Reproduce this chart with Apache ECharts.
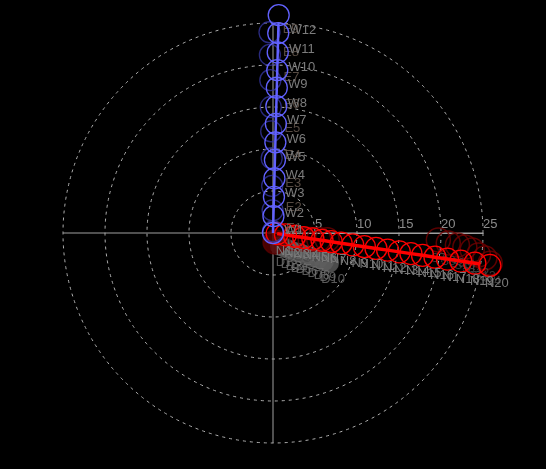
<!DOCTYPE html>
<html>
<head>
<meta charset="utf-8">
<script src="https://cdn.jsdelivr.net/npm/echarts@6/dist/echarts.min.js"></script>
<style>
html,body{margin:0;padding:0;background:#000;}
#chart{width:546px;height:469px;}
</style>
</head>
<body>
<div id="chart"></div>
<script>
// Radius axis
const radiusMax = 25;
const radiusStep = 5;

// W series (bright blue): [radius, angle]
const wNames = ['W1','W2','W3','W4','W5','W6','W7','W8','W9','W10','W11','W12',''];
const wRadius = [0, 2.0, 4.3, 6.5, 8.7, 10.8, 13.0, 15.1, 17.3, 19.4, 21.5, 23.8, 25.95];
const wAngle  = [88.5, 88.5, 88.5, 88.5, 88.5, 88.5, 88.5, 88.5, 88.5, 88.5, 88.5, 88.5, 88.5];

// E series (dark blue)
const eNames = ['E1','E2','E3','E4','E5','E6','E7','E8','E9'];
const eRadius = [0.2, 2.7, 5.6, 8.9, 12.1, 15.0, 18.2, 21.2, 23.9];
const eAngle  = [91, 91, 91, 91, 91, 91, 91, 91, 91];

// N series (red)
const nNames = ['N1','N2','N3','N4','N5','N6','N7','N8','N9','N10','N11','N12','N13','N14','N15','N16','N17','N18','N19','N20'];
const nRadius = [0.5, 1.5, 2.6, 3.7, 4.8, 5.9, 7.0, 8.2, 9.6, 11.0, 12.4, 13.8, 15.2, 16.6, 18.0, 19.5, 21.0, 22.6, 24.3, 26.1];
const nAngle  = [351.5, 351.5, 351.5, 351.5, 351.5, 351.5, 351.5, 351.5, 351.5, 351.5, 351.5, 351.5, 351.5, 351.5, 351.5, 351.5, 351.5, 351.5, 351.5, 351.5];

// S series (dark red)
const sNames = ['S1','S2','S3','S4','S5','S6','S7','S8','S9','S10','S11','S12','S13','S14'];
const sRadius = [1.1, 2.5, 3.5, 4.5, 5.5, 6.5, 19.7, 20.9, 22.0, 22.9, 23.8, 24.6, 25.4, 26.1];
const sAngle  = [283, 345, 348, 350, 352, 353, 357.6, 356.7, 356.3, 355.8, 355.1, 353.9, 353.3, 352.1];

// D series (gray, filled)
const dNames = ['D1','D2','D3','D4','D5','D6','D7','D8','D9','D10'];
const dRadius = [1.76, 2.29, 2.86, 3.46, 4.0, 4.72, 5.45, 6.19, 6.93, 7.56];
const dAngle  = [298, 309, 315, 319, 323.5, 326, 328, 330, 331, 332];

function pack(r, a, names) { return r.map((v, i) => ({ name: names[i], value: [v, a[i]] })); }

const clear = 'rgba(0,0,0,0)';
const chart = echarts.init(document.getElementById('chart'));
chart.setOption({
  backgroundColor: '#000',
  animation: false,
  polar: { center: [273, 233], radius: 210 },
  angleAxis: {
    type: 'value', min: 0, max: 360, interval: 90, startAngle: 0, clockwise: false,
    axisLine: { show: false }, axisTick: { show: false }, axisLabel: { show: false },
    splitLine: { show: true, lineStyle: { color: '#a0a0a0', width: 1, type: 'solid' } }
  },
  radiusAxis: {
    type: 'value', min: 0, max: radiusMax, interval: radiusStep,
    axisLine: { show: true, lineStyle: { color: '#a0a0a0', width: 1 } },
    axisTick: { show: false },
    axisLabel: { color: '#8a8a8a', fontSize: 13, align: 'left', verticalAlign: 'bottom', margin: 2,
      formatter: v => v === 0 ? '' : String(v) },
    splitLine: { show: true, lineStyle: { color: '#b0b0b0', width: 1, type: [3, 4] } }
  },
  series: [
    {
      type: 'scatter', coordinateSystem: 'polar', clip: false, z: 2,
      symbol: 'circle', symbolSize: 20,
      itemStyle: { color: '#5e5e5e' },
      label: { show: true, position: 'bottom', formatter: '{b}', color: '#6e6e6e', fontSize: 13, distance: 0, offset: [4, 0] },
      data: pack(dRadius, dAngle, dNames)
    },
    {
      type: 'scatter', coordinateSystem: 'polar', clip: false, z: 3,
      symbol: 'circle', symbolSize: 24,
      itemStyle: { color: clear, borderColor: '#720000', borderWidth: 1.5 },
      label: { show: true, position: 'bottom', formatter: '{b}', color: '#4a4a4a', fontSize: 12, distance: 0 },
      data: pack(sRadius, sAngle, sNames).map((d, i) => i === 0 ? Object.assign(d, { itemStyle: { color: '#5a0000', borderColor: '#5a0000' }, label: { show: false } }) : d)
    },
    {
      type: 'line', coordinateSystem: 'polar', clip: false, z: 4,
      symbol: 'circle', symbolSize: 22, showAllSymbol: true,
      lineStyle: { color: '#ff0000', width: 3.5 },
      itemStyle: { color: clear, borderColor: '#ff0000', borderWidth: 1.3 },
      label: { show: true, position: 'bottom', formatter: '{b}', color: '#7a7a7a', fontSize: 13, distance: 0, offset: [7, 0] },
      data: pack(nRadius, nAngle, nNames)
    },
    {
      type: 'scatter', coordinateSystem: 'polar', clip: false, z: 5,
      symbol: 'circle', symbolSize: 21,
      itemStyle: { color: clear, borderColor: '#34349e', borderWidth: 1.3 },
      label: { show: true, position: 'right', formatter: '{b}', color: '#6b5d52', fontSize: 13, distance: 2, offset: [0, -3] },
      data: pack(eRadius, eAngle, eNames)
    },
    {
      type: 'line', coordinateSystem: 'polar', clip: false, z: 6,
      symbol: 'circle', symbolSize: 21, showAllSymbol: true,
      lineStyle: { color: '#6262ff', width: 2.5 },
      itemStyle: { color: clear, borderColor: '#6262ff', borderWidth: 1.3 },
      label: { show: true, position: 'right', formatter: '{b}', color: '#7c7c7c', fontSize: 13, distance: 0, offset: [0, -3] },
      data: pack(wRadius, wAngle, wNames)
    }
  ]
});
</script>
</body>
</html>
